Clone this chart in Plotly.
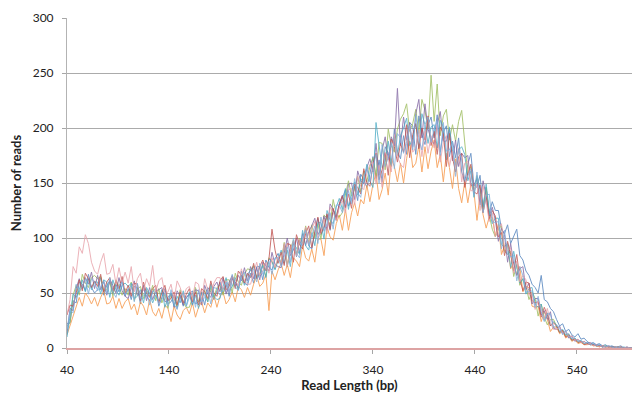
import plotly.graph_objects as go

# Read length categories (bp), step 3: 40 .. 598
read_length = list(range(40, 600, 3))

s_blue = [
    22,23,43,41,60,58,52,67,55,50,
    53,64,48,57,61,49,58,51,62,47,
    54,44,56,55,40,57,47,43,51,54,
    38,47,54,40,42,48,36,48,38,46,
    49,52,40,42,50,39,55,51,44,52,
    60,49,58,47,63,60,54,70,59,57,
    68,59,74,74,62,80,73,71,81,86,
    76,94,74,88,96,83,98,93,109,93,
    90,105,118,103,109,121,107,126,116,130,
    136,144,129,135,147,134,158,153,146,158,
    174,154,171,151,183,177,165,199,179,172,
    193,176,205,202,176,211,194,185,203,210,
    191,212,178,196,202,174,188,173,191,160,
    151,167,177,148,146,157,128,146,122,133,
    125,125,108,104,112,95,102,108,84,80,
    70,66,58,55,50,66,44,42,36,33,
    26,20,22,15,17,12,10,13,8,9,
    6,4,5,3,4,2,3,1,2,1,
    1,2,0,1,0,0,0]
s_orange = [
    12,20,29,38,46,38,50,46,40,46,
    38,46,52,40,41,47,36,45,36,42,
    45,35,40,30,42,38,30,44,33,29,
    36,27,39,36,24,38,30,26,34,37,
    31,41,28,37,42,32,41,37,48,37,
    47,51,40,44,51,42,56,53,46,55,
    48,58,66,56,59,67,34,70,62,71,
    77,66,76,64,82,79,74,93,82,79,
    90,78,99,99,84,110,101,98,113,121,
    107,126,107,123,132,120,135,131,148,133,
    149,159,135,144,159,139,172,165,151,168,
    150,172,188,164,168,184,160,183,163,179,
    189,164,176,151,177,164,145,172,145,132,
    151,132,149,142,116,139,121,109,119,119,
    102,113,85,93,93,72,78,66,74,51,
    56,55,38,37,38,24,33,26,15,19,
    19,13,15,9,11,6,8,4,5,3,
    3,4,2,2,1,2,1,1,0,1,
    0,1,0,0,0,0,0]
s_green = [
    20,23,48,57,48,67,59,55,64,66,
    63,65,52,53,60,47,62,56,48,54,
    48,60,43,53,56,45,53,47,57,43,
    54,41,49,36,50,45,38,53,41,37,
    37,47,55,42,45,53,42,55,46,55,
    57,48,62,62,50,68,60,57,67,72,
    71,75,64,67,76,65,82,79,72,81,
    78,96,76,90,98,85,100,95,111,95,
    112,100,113,99,121,118,112,135,122,119,
    123,139,152,138,144,156,142,161,151,165,
    173,157,187,186,162,199,184,178,199,208,
    213,222,197,204,217,195,226,216,199,248,
    206,240,193,211,217,189,203,188,206,216,
    184,158,165,140,157,144,126,146,121,108,
    101,108,111,88,85,88,65,76,57,63,
    56,44,51,45,29,40,28,21,26,26,
    20,14,16,11,12,7,9,5,6,4,
    4,3,3,2,2,1,2,1,1,0,
    1,0,0,0,0,0,0]
s_purple = [
    13,36,34,54,63,54,64,58,69,54,
    66,53,61,48,62,57,50,64,52,47,
    45,55,61,48,49,56,43,55,44,52,
    53,55,42,43,50,37,52,47,39,46,
    49,39,53,52,39,57,49,46,56,60,
    51,64,49,60,66,56,66,61,73,61,
    74,63,73,62,78,75,70,87,76,74,
    73,88,100,84,89,100,86,104,93,106,
    111,118,103,108,120,107,131,126,119,131,
    139,128,149,150,135,161,152,149,164,172,
    160,186,157,180,192,171,192,184,236,184,
    210,189,205,183,213,226,191,222,199,190,
    185,203,215,188,188,199,170,189,165,177,
    173,175,148,148,154,130,152,138,120,128,
    116,97,109,103,78,95,77,66,72,74,
    53,59,40,45,45,30,34,26,33,18,
    17,20,13,15,9,11,6,8,5,6,
    4,5,3,3,2,2,1,2,1,1,
    0,1,0,0,0,0,0]
s_teal = [
    10,30,49,46,53,62,51,63,53,60,
    60,49,62,60,46,62,53,48,57,59,
    56,59,45,47,53,41,55,50,41,48,
    42,53,37,46,50,38,47,41,52,38,
    51,39,48,36,51,48,42,58,47,44,
    45,56,64,52,56,64,53,66,57,67,
    70,74,63,66,75,64,81,78,71,80,
    89,77,89,74,95,91,85,107,93,89,
    105,93,114,114,99,125,116,113,128,136,
    126,145,126,142,151,139,154,150,167,152,
    146,205,186,164,170,188,166,192,175,193,
    200,209,184,191,204,182,213,203,186,201,
    203,182,207,201,171,201,179,166,180,183,
    176,152,161,137,156,145,128,149,125,113,
    118,118,94,92,95,73,88,75,59,63,
    49,54,55,40,37,40,25,32,20,24,
    21,15,17,12,13,8,9,6,7,4,
    5,3,4,2,3,1,2,1,1,1,
    0,0,1,0,0,0,0]
s_red = [
    30,39,38,50,62,52,68,63,55,61,
    56,67,51,60,64,52,61,54,65,50,
    57,47,59,58,43,60,50,46,54,57,
    41,50,57,43,45,51,39,51,41,49,
    54,42,51,39,54,51,45,61,50,47,
    61,65,53,56,65,54,70,66,59,68,
    64,77,63,74,80,70,81,108,89,77,
    87,75,95,94,78,103,94,90,104,111,
    91,106,119,104,110,122,108,127,117,131,
    138,127,140,127,149,146,140,163,150,147,
    167,177,153,162,177,157,190,183,169,186,
    178,203,173,194,204,181,200,189,211,184,
    197,176,201,195,165,195,173,160,174,177,
    146,159,167,142,140,148,123,138,117,125,
    120,101,105,84,97,85,70,85,63,52,
    60,59,43,41,42,28,37,30,20,23,
    20,14,16,10,12,7,8,5,6,3,
    4,3,3,2,2,1,1,1,1,0,
    1,0,0,0,0,0,0]
s_pink = [
    30,44,74,68,92,86,103,95,78,70,
    67,78,86,67,68,76,58,73,59,69,
    59,74,51,63,68,52,63,56,75,51,
    61,64,49,51,58,44,61,55,46,54,
    56,45,60,58,43,63,53,49,59,64,
    64,53,61,50,65,62,56,72,61,58,
    58,69,78,66,70,78,68,82,73,83,
    77,95,75,89,97,84,99,94,110,94,
    108,115,100,105,117,104,128,123,116,128,
    134,123,144,145,130,156,147,144,159,167,
    169,149,166,146,178,172,160,194,174,167,
    164,186,202,178,182,198,174,197,177,193,
    182,203,169,187,193,165,179,164,182,151,
    168,170,143,143,149,125,147,133,115,123,
    101,109,113,91,88,91,68,79,60,66,
    62,48,50,35,43,36,26,36,23,17,
    17,19,13,15,10,11,7,8,5,6,
    3,4,2,3,1,2,1,1,0,1,
    0,0,0,1,0,0,0]
s_ltblue = [
    17,34,32,58,51,56,63,49,63,60,
    52,55,61,49,64,51,46,57,60,48,
    53,57,42,59,45,48,53,39,52,50,
    41,44,50,38,53,40,35,47,50,38,
    46,50,37,53,42,46,53,40,55,54,
    48,53,60,50,67,56,52,65,69,59,
    67,72,60,77,67,71,79,67,82,82,
    74,82,92,78,100,86,82,100,107,93,
    103,111,95,119,106,113,123,108,130,130,
    123,132,143,131,154,141,137,156,164,151,
    164,176,150,185,165,173,187,163,195,191,
    177,188,203,180,212,190,180,203,210,187,
    199,206,175,205,179,180,187,156,181,171,
    153,156,163,139,160,136,123,138,140,115,
    114,115,90,107,85,83,84,61,74,66,
    51,51,52,37,47,33,24,31,31,18,
    21,18,12,16,10,9,9,6,7,4,
    5,3,4,2,3,1,1,2,1,0,
    1,0,0,0,0,0,0]

series = [
    ("Sample 1", s_blue, "#4F81BD"),
    ("Sample 2", s_orange, "#F79646"),
    ("Sample 3", s_green, "#9BBB59"),
    ("Sample 4", s_purple, "#8064A2"),
    ("Sample 5", s_teal, "#4BACC6"),
    ("Sample 6", s_red, "#C0504D"),
    ("Sample 7", s_pink, "#E8A0A8"),
    ("Sample 8", s_ltblue, "#7FAEDC"),
]

x_ticks = [40, 140, 240, 340, 440, 540]
y_ticks = [0, 50, 100, 150, 200, 250, 300]

fig = go.Figure()
for name, vals, col in series:
    fig.add_trace(go.Scatter(
        x=read_length[:len(vals)], y=vals, mode="lines", name=name,
        line=dict(color=col, width=1), opacity=0.8,
    ))

font_family = "Lato, 'Open Sans', sans-serif"
fig.update_layout(
    width=632, height=395,
    margin=dict(l=67, r=0, t=18, b=47),
    paper_bgcolor="white", plot_bgcolor="white",
    showlegend=False,
    font=dict(family=font_family, size=12, color="#222222"),
    xaxis=dict(
        range=[40, 594], tickvals=x_ticks, ticktext=[str(v) for v in x_ticks],
        showgrid=False, zeroline=False,
        showline=True, linecolor="#DDA3A3", linewidth=2,
        ticks="outside", ticklen=4, tickcolor="#A6A6A6",
        ticklabelstandoff=6,
        title=dict(text="<b>Read Length (bp)</b>", font=dict(size=13), standoff=2),
    ),
    yaxis=dict(
        range=[0, 300], tickvals=y_ticks,
        showgrid=True, gridcolor="#ABABAB", gridwidth=1,
        zeroline=False,
        showline=True, linecolor="#B3B3B3", linewidth=1,
        ticks="outside", ticklen=4, tickcolor="#A6A6A6",
        ticklabelstandoff=6,
        title=dict(text="<b>Number of reads</b>", font=dict(size=13), standoff=8),
    ),
)

fig.write_html("out.html")
